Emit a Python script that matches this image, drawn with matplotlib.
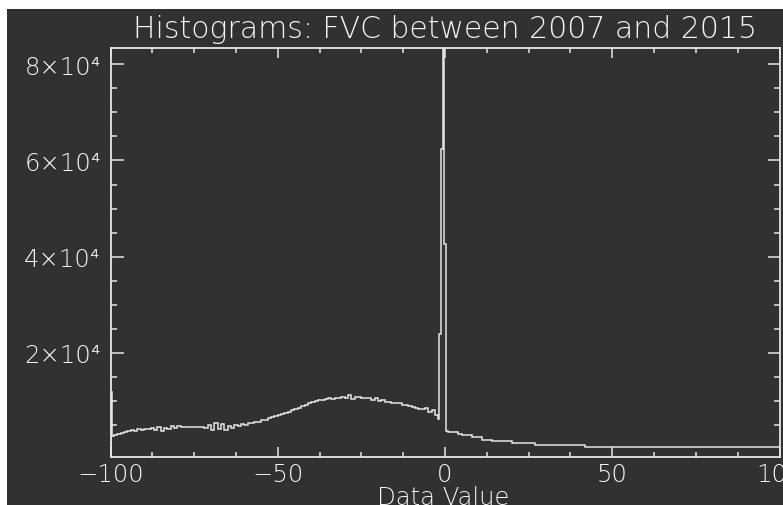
import numpy as np
import matplotlib
matplotlib.use("Agg")
import matplotlib.pyplot as plt
from matplotlib.patches import Rectangle
from matplotlib.ticker import FixedLocator, FixedFormatter, MultipleLocator

# ---------------- data ----------------
title = "Histograms: FVC between 2007 and 2015"
x_label = "Data Value"

# first (half) bins at the left edge
first_edges = [-100, -99.6, -99]
first_counts = [11800, 2750]

# unit bins from -99 to -2
left_counts = [
    2800, 3000, 3300, 3500, 3700, 3900, 3700, 4100, 4000, 4200,   # -99 .. -90
    4100, 4300, 4000, 4600, 3800, 4400, 4200, 4700, 4400, 4800,   # -89 .. -80
    4500, 4500, 4500, 4500, 4500, 4600, 4500, 4300, 4900, 3900,   # -79 .. -70
    5300, 4100, 5100, 4000, 4800, 4400, 4900, 4700, 5100, 5000,   # -69 .. -60
    5400, 5300, 5700, 5600, 6100, 6000, 6500, 6700, 6800, 7100,   # -59 .. -50
    7300, 7500, 7700, 8000, 8300, 8600, 8900, 9100, 9500, 9700,   # -49 .. -40
    9900, 10100, 10200, 10300, 10500, 10400, 10600, 10500, 10800, 10600,  # -39 .. -30
    11200, 10400, 10800, 10700, 10600, 10600, 10500, 10100, 10500, 10000,  # -29 .. -20
    10100, 9800, 9800, 9600, 9500, 9500, 9200, 9100, 8900, 8800,  # -19 .. -10
    8600, 8400, 8200, 8500, 7600, 8000, 7000,                     # -9 .. -3
]

# narrow bins around zero (the spike)
spike_edges = [-2, -1.8, -1.3, -0.6, -0.3, 0.4, 1]
spike_counts = [6200, 23900, 62400, 83400, 42600, 3800]

# unit bins from 1 to 100
right_counts = (
    [3450, 3450, 3450, 3200]
    + [2950] * 3
    + [2400] * 3
    + [1900] * 3
    + [1700]
    + [1580] * 5
    + [1230] * 7
    + [880] * 15
    + [500] * 58
)

x_ticks = [-100, -50, 0, 50, 100]
x_tick_labels = ["\u2212100", "\u221250", "0", "50", "100"]
y_ticks = [20000, 40000, 60000, 80000]
y_tick_labels = ["2\u00d710\u2074", "4\u00d710\u2074", "6\u00d710\u2074", "8\u00d710\u2074"]
y_minor = [5000, 10000, 15000, 25000, 30000, 35000, 45000, 50000, 55000,
           65000, 70000, 75000]

# ---------------- build histogram ----------------
edges = np.concatenate([
    first_edges,
    np.arange(-98, -1),
    spike_edges[1:],
    np.arange(2, 101),
]).astype(float)
counts = np.array(first_counts + left_counts + spike_counts + right_counts, float)
assert len(edges) == len(counts) + 1

BG = "#313131"
FG = "#e6e6e6"
TXT = "#f4f4f4"
plt.rcParams["font.family"] = ["DejaVu Sans"]
plt.rcParams["font.weight"] = "light"

fig = plt.figure(figsize=(7.83, 5.06), dpi=100, facecolor="white")
fig.patches.append(Rectangle((7 / 783, 0), 1 - 7 / 783, 1 - 10 / 506,
                             transform=fig.transFigure, facecolor=BG,
                             edgecolor="none", zorder=-10))

ax = fig.add_axes([110.5 / 783, 1 - 457.5 / 506, (779.5 - 110.5) / 783,
                   (457.5 - 49) / 506], facecolor=BG)

ax.stairs(counts, edges, color=FG, lw=1.1)

ax.set_xlim(-100, 100)
ax.set_ylim(-1580, 83400)

for s in ax.spines.values():
    s.set_color(FG)
    s.set_linewidth(1.3)

ax.xaxis.set_major_locator(FixedLocator(x_ticks))
ax.xaxis.set_major_formatter(FixedFormatter(x_tick_labels))
ax.xaxis.set_minor_locator(MultipleLocator(12.5))
ax.yaxis.set_major_locator(FixedLocator(y_ticks))
ax.yaxis.set_major_formatter(FixedFormatter(y_tick_labels))
ax.yaxis.set_minor_locator(FixedLocator(y_minor))

ax.tick_params(axis="x", which="major", direction="in", length=7.2, width=1.1,
               color=FG, labelcolor=TXT, labelsize=17.5, pad=4, top=True)
ax.tick_params(axis="x", which="minor", direction="in", length=3.6, width=1.1,
               color=FG, top=True)
ax.tick_params(axis="y", which="major", direction="in", length=9, width=1.1,
               color=FG, labelcolor=TXT, labelsize=17.5, pad=7, right=True)
ax.tick_params(axis="y", which="minor", direction="in", length=4.5, width=1.1,
               color=FG, right=True)

ax.set_title(title, color=TXT, fontsize=21.5, fontweight="light", pad=8)
fig.text(443 / 783, 1 - 505 / 506, x_label, color=TXT, fontsize=17.5,
         fontweight="light", ha="center", va="baseline")

fig.savefig("out.png", dpi=100, facecolor="white")
